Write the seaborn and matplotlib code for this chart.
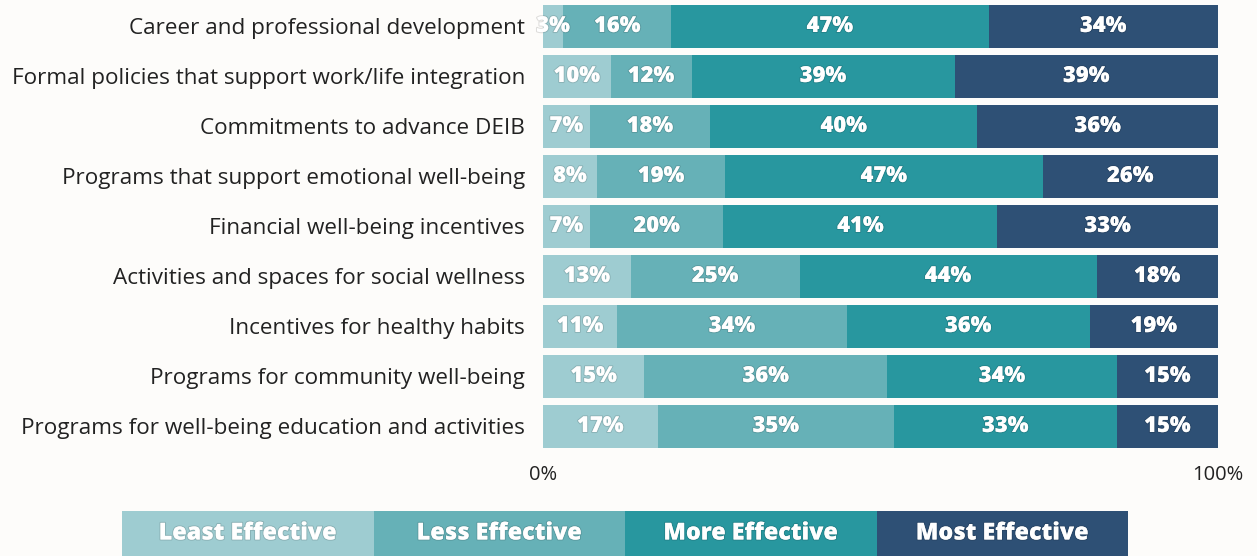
import numpy as np
import pandas as pd
import matplotlib.pyplot as plt
import matplotlib.patheffects as pe
import seaborn as sns

# data
categories = [
    "Career and professional development",
    "Formal policies that support work/life integration",
    "Commitments to advance DEIB",
    "Programs that support emotional well-being",
    "Financial well-being incentives",
    "Activities and spaces for social wellness",
    "Incentives for healthy habits",
    "Programs for community well-being",
    "Programs for well-being education and activities",
]
levels = ["Least Effective", "Less Effective", "More Effective", "Most Effective"]
least = [3, 10, 7, 8, 7, 13, 11, 15, 17]
less = [16, 12, 18, 19, 20, 25, 34, 36, 35]
more = [47, 39, 40, 47, 41, 44, 36, 34, 33]
most = [34, 39, 36, 26, 33, 18, 19, 15, 15]
colors = ["#9ECCD1", "#66B1B7", "#28979F", "#2E5075"]

bg = "#FDFCFA"
sns.set_style("white")
plt.rcParams["font.family"] = ["Open Sans", "DejaVu Sans"]

df = pd.DataFrame({"category": categories, levels[0]: least, levels[1]: less,
                   levels[2]: more, levels[3]: most})
vals = df[levels]
# some rows round to 101, scale each row to its total so bars end at 100%
share = vals.div(vals.sum(axis=1), axis=0) * 100
cum = share.cumsum(axis=1)

fig = plt.figure(figsize=(12.57, 5.56), dpi=100, facecolor=bg)
ax = fig.add_axes([543 / 1257, 1 - 451 / 556, 675 / 1257, 450 / 556])
ax.set_facecolor(bg)

for k in range(len(levels) - 1, -1, -1):
    sns.barplot(x=cum[levels[k]], y=df["category"], color=colors[k],
                width=0.86, saturation=1, linewidth=0, ax=ax, orient="h")

glow = [pe.withStroke(linewidth=1.5, foreground=(0, 0, 0, 0.12))]
for i in range(len(categories)):
    for k, lev in enumerate(levels):
        left = cum.iloc[i, k] - share.iloc[i, k]
        ax.text(left + share.iloc[i, k] / 2, i, f"{vals.iloc[i, k]}%", ha="center",
                va="center", color="white", fontsize=15.8, fontweight=800,
                path_effects=glow)

ax.set_xlim(0, 100)
ax.set_ylim(8.5, -0.5)
ax.set_xticks([0, 100])
ax.set_xticklabels(["0%", "100%"], fontsize=14.5, color="#222222")
ax.tick_params(axis="x", length=0, pad=10)
ax.tick_params(axis="y", length=0, pad=13, labelsize=16.2, labelcolor="#222222")
ax.set_xlabel("")
ax.set_ylabel("")
for s in ax.spines.values():
    s.set_visible(False)

# legend strip
lax = fig.add_axes([122 / 1257, 0, 1006 / 1257, 45 / 556])
lax.set_facecolor(bg)
leg = pd.DataFrame({"level": levels, "pos": np.arange(1, 5)})
for k in range(len(levels) - 1, -1, -1):
    sns.barplot(x=[leg["pos"][k]], y=[0], color=colors[k], width=1.0,
                saturation=1, linewidth=0, ax=lax, orient="h")
for k, lev in enumerate(levels):
    lax.text(k + 0.5, 0, lev, ha="center", va="center", color="white",
             fontsize=16.8, fontweight=800, path_effects=glow)
lax.set_xlim(0, 4)
lax.set_ylim(0.5, -0.5)
lax.axis("off")

fig.savefig("out.png", dpi=100, facecolor=bg)
